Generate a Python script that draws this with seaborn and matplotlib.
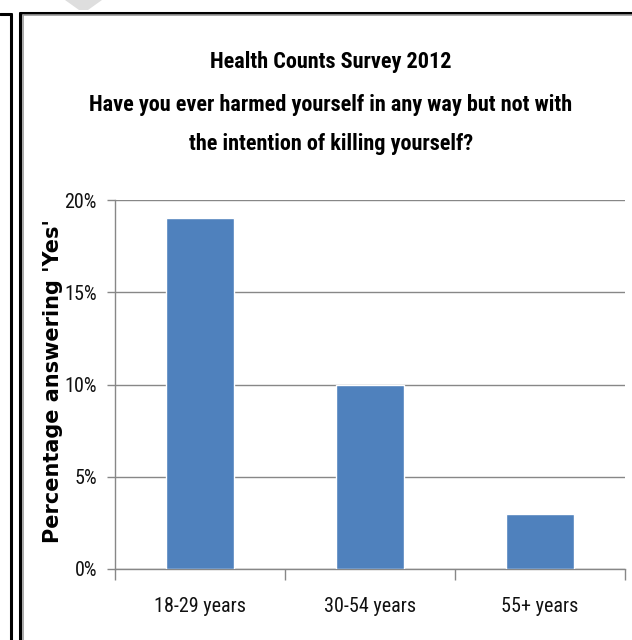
import matplotlib
matplotlib.use("Agg")
import matplotlib.pyplot as plt
import seaborn as sns
import pandas as pd
from matplotlib import font_manager as fm
from matplotlib.patches import Polygon
from matplotlib.lines import Line2D

# Survey results
age_groups = ["18-29 years", "30-54 years", "55+ years"]
pct_yes = [19, 10, 3]
y_ticks = [0, 5, 10, 15, 20]
y_tick_labels = ["0%", "5%", "10%", "15%", "20%"]
title_lines = [
    "Health Counts Survey 2012",
    "Have you ever harmed yourself in any way but not with",
    "the intention of killing yourself?",
]
y_label = "Percentage answering 'Yes'"

W, H = 632, 640
sns.set_theme(style="white")

# choose a narrow sans face if one is available
entries = fm.fontManager.ttflist
names = {f.name for f in entries}
text_font = None
text_stretch = "normal"
for cand in ["Liberation Sans Narrow", "Roboto Condensed", "Open Sans Condensed",
             "Arial Narrow"]:
    if cand in names:
        text_font = cand
        break
if text_font is None:
    if any(f.name == "DejaVu Sans" and str(f.stretch) in ("condensed", "semi-condensed")
           for f in entries):
        text_font = "DejaVu Sans"
        text_stretch = "condensed"
    else:
        text_font = "Liberation Sans"
is_narrow = text_font != "Liberation Sans"
title_size = 16 if is_narrow else 14
tick_size = 14.5 if is_narrow else 12.5

plt.rcParams["font.family"] = [text_font, "DejaVu Sans"]

fig = plt.figure(figsize=(W / 100, H / 100), dpi=100)
fig.patch.set_facecolor("white")


def fx(x):
    return x / W


def fy(y):
    return 1 - y / H


# plot area
ax = fig.add_axes([fx(115), fy(569), fx(510), (569 - 200) / H])
df = pd.DataFrame({"age": age_groups, "pct": pct_yes})
sns.barplot(data=df, x="age", y="pct", color="#4F81BD", saturation=1,
            width=0.4, ax=ax, zorder=3)

ax.set_xlim(-0.5, 2.5)
ax.set_ylim(0, 20)
ax.set_facecolor("white")
ax.set_axisbelow(True)
ax.yaxis.grid(True, color="#878787", lw=1)
ax.xaxis.grid(False)
for s in ["top", "right"]:
    ax.spines[s].set_visible(False)
for s in ["left", "bottom"]:
    ax.spines[s].set_color("#878787")
    ax.spines[s].set_linewidth(1)

# category separators as major ticks, names as minor ticks
ax.set_xticks([-0.5, 0.5, 1.5, 2.5])
ax.set_xticklabels([])
ax.set_xticks([0, 1, 2], minor=True)
ax.set_xticklabels(age_groups, minor=True, fontsize=tick_size, color="#111111",
                   fontstretch=text_stretch)
ax.tick_params(axis="x", which="major", direction="out", length=8,
               width=1, color="#878787", bottom=True)
ax.tick_params(axis="x", which="minor", length=0, pad=20)

ax.set_yticks(y_ticks)
ax.set_yticklabels(y_tick_labels, fontsize=tick_size, color="#111111",
                   fontstretch=text_stretch)
ax.tick_params(axis="y", which="major", direction="out", length=6,
               width=1, color="#878787", left=True, pad=7)

ax.set_xlabel("")
ax.set_ylabel("")

# axis title
fig.text(fx(53), fy(381), y_label, rotation=90, ha="center", va="center",
         fontsize=15, fontweight="bold", family=["DejaVu Sans"], color="black")

# chart title
for line, base in zip(title_lines, [68, 111, 150]):
    fig.text(fx(331), fy(base), line, ha="center", va="baseline",
             fontsize=title_size, fontweight="bold", fontstretch=text_stretch,
             family=[text_font, "DejaVu Sans"], color="black")

# frames
fig.add_artist(Line2D([fx(0), fx(11)], [fy(14), fy(14)], color="black", lw=2.2))
fig.add_artist(Line2D([fx(11), fx(11)], [fy(14), fy(640)], color="black", lw=2.2))
fig.add_artist(Line2D([fx(20), fx(632)], [fy(12.5), fy(12.5)], color="black", lw=2.2))
fig.add_artist(Line2D([fx(20), fx(20)], [fy(12.5), fy(640)], color="black", lw=2.2))
fig.add_artist(Line2D([fx(22.5), fx(632)], [fy(15), fy(15)], color="#9a9a9a", lw=1.2))
fig.add_artist(Line2D([fx(22.5), fx(22.5)], [fy(15), fy(640)], color="#9a9a9a", lw=1.2))

# faint marker at the top edge
fig.add_artist(Polygon([(fx(65), fy(0)), (fx(102), fy(0)), (fx(88), fy(10)),
                        (fx(79), fy(10))], closed=True, facecolor="#dedede",
                       edgecolor="none", transform=fig.transFigure))

fig.savefig("out.png", dpi=100, facecolor="white")
